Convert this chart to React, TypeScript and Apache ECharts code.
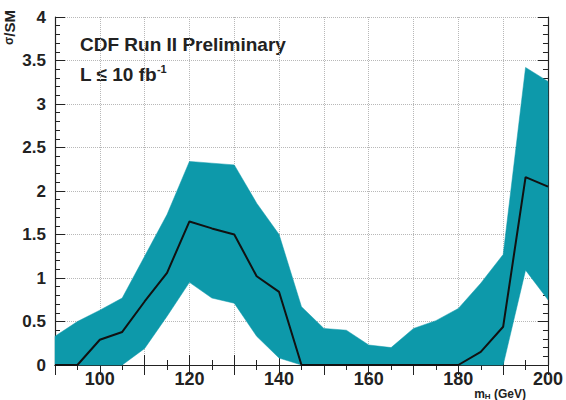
import React, { useEffect, useRef } from "react";
import * as echarts from "echarts";

// Higgs mass points (GeV)
const masses = [90, 95, 100, 105, 110, 115, 120, 125, 130, 135, 140, 145, 150, 155, 160, 165, 170, 175, 180, 185, 190, 195, 200];
// median expected sigma/SM
const median = [0, 0, 0.29, 0.38, 0.73, 1.06, 1.65, 1.57, 1.5, 1.02, 0.84, 0, 0, 0, 0, 0, 0, 0, 0, 0.15, 0.44, 2.16, 2.05];
// band edges
const bandLow = [0, 0, 0, 0, 0.19, 0.56, 0.95, 0.77, 0.71, 0.33, 0.08, 0, 0, 0, 0, 0, 0, 0, 0, 0, 0, 1.09, 0.75];
const bandHigh = [0.33, 0.5, 0.63, 0.77, 1.25, 1.73, 2.34, 2.32, 2.3, 1.86, 1.5, 0.67, 0.42, 0.4, 0.23, 0.2, 0.42, 0.51, 0.65, 0.94, 1.27, 3.42, 3.26];

const FONT = "'Liberation Sans', Arial, sans-serif";
const INK = "#222";
const TEAL = "#0d99aa";

export default function App() {
  const ref = useRef<HTMLDivElement>(null);

  useEffect(() => {
    if (!ref.current) return;
    const chart = echarts.init(ref.current, undefined, { renderer: "svg" });

    const tickCommon = {
      axisLine: { show: true, lineStyle: { color: INK, width: 1.2 } },
      axisTick: { show: true, inside: true, length: 10, lineStyle: { color: INK } },
      minorTick: { show: true, length: 5, lineStyle: { color: INK } },
    };

    chart.setOption({
      animation: false,
      grid: { left: 55, right: 18, top: 17, bottom: 35 },
      xAxis: [
        {
          type: "value",
          min: 90,
          max: 200,
          interval: 10,
          ...tickCommon,
          minorTick: { ...tickCommon.minorTick, splitNumber: 2 },
          splitLine: { show: true, lineStyle: { color: "#b8b8b8", type: "dotted" } },
          axisLabel: {
            color: INK,
            fontFamily: FONT,
            fontWeight: "bold",
            fontSize: 18,
            lineHeight: 18,
            margin: 5,
            formatter: (v: number) => (v % 20 === 0 ? String(v) : ""),
          },
        },
        {
          type: "value",
          position: "top",
          min: 90,
          max: 200,
          interval: 10,
          ...tickCommon,
          minorTick: { ...tickCommon.minorTick, splitNumber: 2 },
          splitLine: { show: false },
          axisLabel: { show: false },
        },
      ],
      yAxis: [
        {
          type: "value",
          min: 0,
          max: 4,
          interval: 0.5,
          ...tickCommon,
          minorTick: { ...tickCommon.minorTick, splitNumber: 5 },
          splitLine: { show: true, lineStyle: { color: "#b8b8b8", type: "dotted" } },
          axisLabel: {
            color: INK,
            fontFamily: FONT,
            fontWeight: "bold",
            fontSize: 17,
            margin: 9,
          },
        },
        {
          type: "value",
          position: "right",
          min: 0,
          max: 4,
          interval: 0.5,
          ...tickCommon,
          minorTick: { ...tickCommon.minorTick, splitNumber: 5 },
          splitLine: { show: false },
          axisLabel: { show: false },
        },
      ],
      series: [
        {
          // expected-limit band drawn as one filled polygon through the axis scales
          type: "custom",
          name: "band",
          silent: true,
          data: masses.map((m, i) => [m, bandLow[i], bandHigh[i]]),
          renderItem: (params: any, api: any) => {
            if (params.dataIndex !== 0) return null;
            const upper = masses.map((m, i) => api.coord([m, bandHigh[i]]));
            const lower = masses.map((m, i) => api.coord([m, bandLow[i]])).reverse();
            return {
              type: "polygon",
              shape: { points: upper.concat(lower) },
              style: { fill: TEAL, stroke: TEAL, lineWidth: 0.5 },
            };
          },
          z: 1,
        },
        {
          type: "line",
          name: "median",
          data: masses.map((m, i) => [m, median[i]]),
          symbol: "none",
          lineStyle: { color: "#111", width: 2 },
          z: 5,
        },
      ],
      graphic: [
        {
          type: "text",
          left: 80,
          top: 35,
          style: {
            text: "CDF Run II Preliminary",
            fontFamily: FONT,
            fontWeight: "bold",
            fontSize: 19,
            fill: INK,
          },
        },
        {
          type: "text",
          left: 80,
          top: 63,
          style: {
            text: "{a|L ≤ 10 fb}{s|-1}",
            fontFamily: FONT,
            fontWeight: "bold",
            fill: INK,
            rich: {
              a: { fontFamily: FONT, fontWeight: "bold", fontSize: 19, fill: INK, verticalAlign: "bottom" },
              s: { fontFamily: FONT, fontWeight: "bold", fontSize: 11, fill: INK, verticalAlign: "top", padding: [0, 0, 10, 0] },
            },
          },
        },
        {
          type: "text",
          x: 9,
          y: 10,
          rotation: Math.PI / 2,
          style: {
            text: "{s|σ}{b|/SM}",
            align: "right",
            verticalAlign: "middle",
            rich: {
              b: { fontFamily: FONT, fontWeight: "bold", fontSize: 15, fill: INK },
              s: { fontFamily: FONT, fontWeight: "bold", fontSize: 12, fill: INK },
            },
          },
        },
        {
          type: "text",
          right: 40,
          top: 388,
          style: {
            text: "{b|m}{sub|H}{b| (GeV)}",
            rich: {
              b: { fontFamily: FONT, fontWeight: "bold", fontSize: 12, lineHeight: 12, fill: INK },
              sub: { fontFamily: FONT, fontWeight: "bold", fontSize: 8, lineHeight: 12, fill: INK, padding: [4, 0, 0, 0] },
            },
          },
        },
      ],
    });

    return () => chart.dispose();
  }, []);

  return <div ref={ref} style={{ width: 566, height: 400, position: "absolute", left: 0, top: 0 }} />;
}
